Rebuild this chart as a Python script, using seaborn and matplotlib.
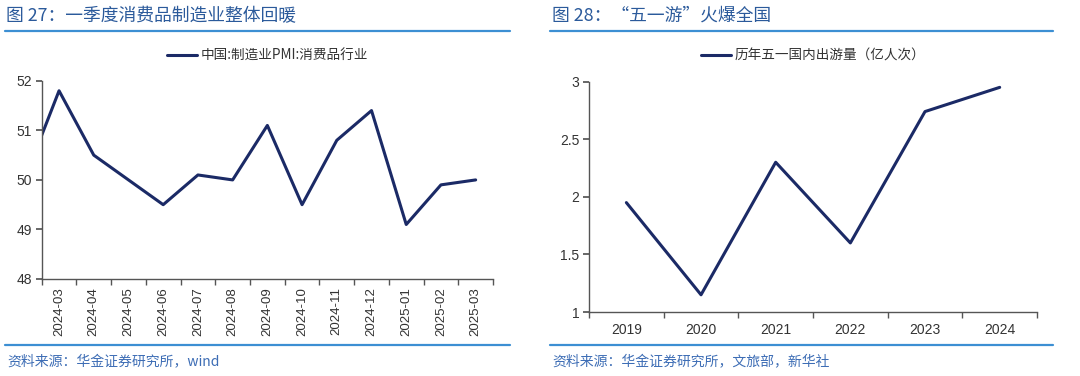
import numpy as np
import pandas as pd
import matplotlib
matplotlib.use("Agg")
import matplotlib.pyplot as plt
import seaborn as sns
from matplotlib.lines import Line2D

sns.set_theme(style="white")
plt.rcParams['font.family'] = ['Liberation Sans', 'Noto Sans CJK SC', 'DejaVu Sans']

# ---- data ----
pmi_months = ["2024-02", "2024-03", "2024-04", "2024-05", "2024-06", "2024-07", "2024-08",
              "2024-09", "2024-10", "2024-11", "2024-12", "2025-01", "2025-02", "2025-03"]
pmi_values = [50.0, 51.8, 50.5, 50.0, 49.5, 50.1, 50.0, 51.1, 49.5, 50.8, 51.4, 49.1, 49.9, 50.0]
pmi_label = "中国:制造业PMI:消费品行业"

trip_years = ["2019", "2020", "2021", "2022", "2023", "2024"]
trip_values = [1.95, 1.15, 2.30, 1.60, 2.74, 2.95]
trip_label = "历年五一国内出游量（亿人次）"

title_left = "图 27：一季度消费品制造业整体回暖"
title_right = "图 28：“五一游”火爆全国"
source_left = "资料来源：华金证券研究所，wind"
source_right = "资料来源：华金证券研究所，文旅部，新华社"

LINE = "#1B2A66"
TITLE_C = "#2B5A9B"
SRC_C = "#3D6DB5"
RULE_C = "#3C8FD3"
TXT = "#333333"
AX_C = "#555555"
CJK = ['Noto Sans CJK SC', 'DejaVu Sans']

fig = plt.figure(figsize=(10.8, 3.76), dpi=100)

def style_axes(ax):
    for s in ["top", "right"]:
        ax.spines[s].set_visible(False)
    for s in ["left", "bottom"]:
        ax.spines[s].set_color(AX_C)
        ax.spines[s].set_linewidth(1.0)
    ax.tick_params(axis="y", which="both", direction="out", length=4, color=AX_C,
                   labelsize=10, labelcolor=TXT, left=True, pad=3)
    ax.grid(False)

# ---- left chart ----
ax1 = fig.add_axes([0.0386, 0.258, 0.4179, 0.527])
df1 = pd.DataFrame({"month": pmi_months, "value": pmi_values})
df1["pos"] = np.arange(len(df1)) - 1
sns.lineplot(data=df1, x="pos", y="value", ax=ax1, color=LINE, linewidth=2.2, legend=False)
n1 = len(pmi_months) - 1
ax1.set_xlim(-0.5, n1 - 0.5)
ax1.set_ylim(48, 52)
ax1.set_yticks([48, 49, 50, 51, 52])
ax1.set_xticks(np.arange(n1))
ax1.set_xticklabels(pmi_months[1:], rotation=90)
ax1.set_xticks(np.arange(n1 + 1) - 0.5, minor=True)
ax1.tick_params(axis="x", which="major", length=0, labelsize=9.5, labelcolor=TXT, pad=6)
ax1.tick_params(axis="x", which="minor", length=4, color=AX_C, direction="out", bottom=True)
ax1.set_xlabel("")
ax1.set_ylabel("")
style_axes(ax1)
h1 = [Line2D([0], [0], color=LINE, lw=2.2)]
leg1 = ax1.legend(h1, [pmi_label], loc="lower center", bbox_to_anchor=(0.5, 1.03), frameon=False,
                  handlelength=2.2, handletextpad=0.3, prop={"family": CJK, "size": 9.8})
for t in leg1.get_texts():
    t.set_color(TXT)

# ---- right chart ----
ax2 = fig.add_axes([0.5454, 0.170, 0.4148, 0.613])
df2 = pd.DataFrame({"year": trip_years, "value": trip_values})
df2["pos"] = np.arange(len(df2))
sns.lineplot(data=df2, x="pos", y="value", ax=ax2, color=LINE, linewidth=2.2, legend=False)
n2 = len(trip_years)
ax2.set_xlim(-0.5, n2 - 0.5)
ax2.set_ylim(1, 3)
ax2.set_yticks([1, 1.5, 2, 2.5, 3])
ax2.set_yticklabels(["1", "1.5", "2", "2.5", "3"])
ax2.set_xticks(np.arange(n2))
ax2.set_xticklabels(trip_years)
ax2.set_xticks(np.arange(n2 + 1) - 0.5, minor=True)
ax2.tick_params(axis="x", which="major", length=0, labelsize=10, labelcolor=TXT, pad=8)
ax2.tick_params(axis="x", which="minor", length=4, color=AX_C, direction="out", bottom=True)
ax2.set_xlabel("")
ax2.set_ylabel("")
style_axes(ax2)
h2 = [Line2D([0], [0], color=LINE, lw=2.2)]
leg2 = ax2.legend(h2, [trip_label], loc="lower center", bbox_to_anchor=(0.5, 1.03), frameon=False,
                  handlelength=2.2, handletextpad=0.3, prop={"family": CJK, "size": 9.8})
for t in leg2.get_texts():
    t.set_color(TXT)

# ---- titles, rules, sources ----
fig.text(0.006, 1 - 16 / 376, title_left, family=CJK, fontsize=12.8, color=TITLE_C, va="center", ha="left")
fig.text(0.5115, 1 - 16 / 376, title_right, family=CJK, fontsize=12.8, color=TITLE_C, va="center", ha="left")
for x0, x1 in [(5, 510), (550, 1053)]:
    fig.add_artist(Line2D([x0 / 1080, x1 / 1080], [1 - 31 / 376] * 2, color=RULE_C, lw=1.6))
    fig.add_artist(Line2D([x0 / 1080, x1 / 1080], [1 - 345 / 376] * 2, color=RULE_C, lw=1.6))
fig.text(0.007, 1 - 362 / 376, source_left, family=CJK, fontsize=10, color=SRC_C, va="center",
         ha="left", style="italic")
fig.text(0.5115, 1 - 362 / 376, source_right, family=CJK, fontsize=10, color=SRC_C, va="center",
         ha="left", style="italic")

fig.savefig("out.png", dpi=100)
